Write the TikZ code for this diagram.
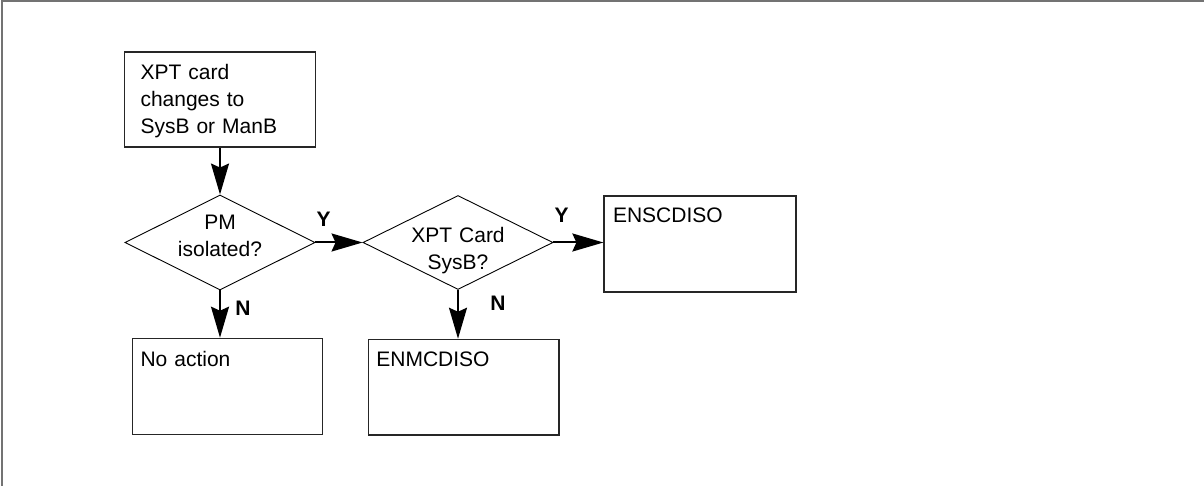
\documentclass[tikz,border=0pt]{standalone}
\usepackage{fontspec}
\setmainfont{Liberation Sans}
\usetikzlibrary{shapes.geometric,arrows.meta}
\begin{document}
\begin{tikzpicture}[x=1pt,y=-1pt,
  font=\fontsize{21}{27}\selectfont,
  box/.style={draw=black!85, line width=1.2pt, rectangle, align=left, inner ysep=0pt},
  decision/.style={draw, line width=0.9pt, diamond, inner sep=-20pt, minimum width=190pt, minimum height=95pt, align=center, text width=110pt},
  flow/.style={line width=2pt, -{Stealth[length=31pt,width=18pt,inset=4pt]}},
  yn/.style={font=\fontsize{21}{27}\selectfont\bfseries, inner sep=0pt}]
\useasboundingbox (0,0) rectangle (1204,486);
\draw[black!55, line width=2pt] (2,486) -- (2,1) -- (1204,1);

\node[box, minimum width=191pt, minimum height=95pt, inner xsep=16pt, text width=159pt, text height=15pt, text depth=54pt] (start) at (220,99.5) {XPT card\\changes to\\SysB or ManB};
\node[decision, text height=15pt, text depth=40pt] (d1) at (220,242.5) {PM\\isolated?};
\node[decision, minimum height=94pt, text height=32pt, text depth=31pt] (d2) at (458,242.5) {XPT Card\\SysB?};
\node[box, minimum width=190pt, minimum height=96pt, inner xsep=8pt, text width=174pt, text height=15pt, text depth=55.6pt] (na) at (227.5,386.3) {No action};
\node[box, minimum width=190.7pt, minimum height=95.7pt, inner xsep=8pt, text width=174.7pt, text height=15pt, text depth=56pt] (en) at (463.7,387.2) {ENMCDISO};
\node[box, minimum width=192pt, minimum height=96pt, inner xsep=9pt, text width=174pt, text height=15pt, text depth=57pt] (es) at (700,244) {ENSCDISO};

\draw[flow] (start.south) -- (d1.north);
\draw[flow] (d1.south) -- (d1.south |- na.north);
\draw[flow] (d1.east) -- (d2.west);
\draw[flow] (d2.south) -- (d2.south |- en.north);
\draw[flow] (d2.east) -- (d2.east -| es.west);

\node[yn] (y1) at (323.5,219.5) {Y};
\node[yn] (y2) at (561.5,215.5) {Y};
\node[yn] (n1) at (243,308) {N};
\node[yn] (n2) at (498,303) {N};
\end{tikzpicture}
\end{document}
